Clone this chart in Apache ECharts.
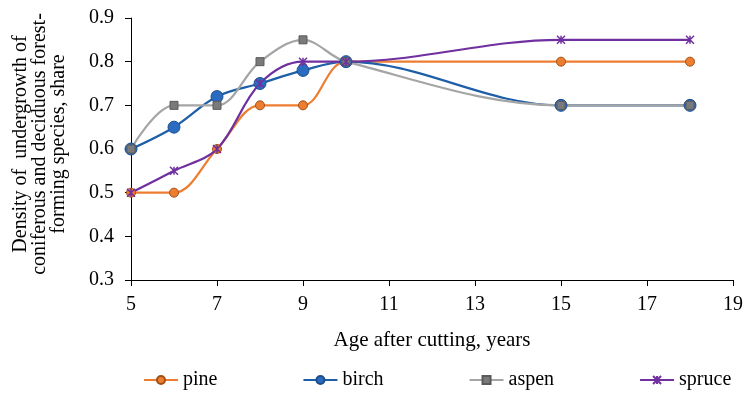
<!DOCTYPE html>
<html>
<head>
<meta charset="utf-8">
<script src="https://cdn.jsdelivr.net/npm/echarts@6/dist/echarts.min.js"></script>
<style>
html,body{margin:0;padding:0;background:#fff;}
#chart{width:746px;height:394px;}
</style>
</head>
<body>
<div id="chart"></div>
<script>
const ages = [5, 6, 7, 8, 9, 10, 15, 18];
const pine = [0.5, 0.5, 0.6, 0.7, 0.7, 0.8, 0.8, 0.8];
const birch = [0.6, 0.65, 0.72, 0.75, 0.78, 0.8, 0.7, 0.7];
const aspen = [0.6, 0.7, 0.7, 0.8, 0.85, 0.8, 0.7, 0.7];
const spruce = [0.5, 0.55, 0.6, 0.75, 0.8, 0.8, 0.85, 0.85];
const xTicks = [5, 7, 9, 11, 13, 15, 17, 19];
const yTitle = 'Density of  undergrowth of\nconiferous and deciduous forest-\nforming species, share';
const xTitle = 'Age after cutting, years';

const FONT = '"Liberation Serif", "Times New Roman", serif';
const pairs = vals => ages.map((a, i) => [a, vals[i]]);

const chart = echarts.init(document.getElementById('chart'), null, {renderer: 'canvas'});
const lineBase = {type: 'line', smooth: 0.35, smoothMonotone: null};

chart.setOption({
  animation: false,
  textStyle: {fontFamily: FONT},
  grid: {left: 131, right: 9, top: 18, bottom: 114},
  xAxis: {
    type: 'value', min: 5, max: 19,
    name: xTitle, nameLocation: 'middle', nameGap: 50,
    nameTextStyle: {fontFamily: FONT, fontSize: 21, color: '#000'},
    axisLine: {show: true, lineStyle: {color: '#000', width: 1}},
    axisTick: {show: true, length: 6, customValues: xTicks, lineStyle: {color: '#000'}},
    axisLabel: {customValues: xTicks, margin: 15, fontFamily: FONT, fontSize: 20, color: '#000'},
    splitLine: {show: false}
  },
  yAxis: {
    type: 'value', min: 0.3, max: 0.9, interval: 0.1,
    axisLine: {show: true, lineStyle: {color: '#000', width: 1}},
    axisTick: {show: true, length: 6, lineStyle: {color: '#000'}},
    axisLabel: {margin: 17, fontFamily: FONT, fontSize: 20, color: '#000',
      formatter: v => v.toFixed(1)},
    splitLine: {show: false}
  },
  legend: {
    left: 143, top: 370, padding: 0, itemWidth: 34, itemHeight: 10, itemGap: 85,
    textStyle: {fontFamily: FONT, fontSize: 20, color: '#000'},
    data: ['pine', 'birch', 'aspen', 'spruce']
  },
  graphic: [{
    type: 'text', x: 40, y: 144, rotation: Math.PI / 2,
    style: {text: yTitle, fontFamily: FONT, fontSize: 20, lineHeight: 19,
      fill: '#000', align: 'center', verticalAlign: 'middle'}
  }],
  series: [
    Object.assign({}, lineBase, {
      name: 'pine', data: pairs(pine), symbol: 'circle', symbolSize: 9,
      lineStyle: {color: '#ED7D31', width: 2.25},
      itemStyle: {color: '#ED7D31', borderColor: '#A34E12', borderWidth: 1}
    }),
    Object.assign({}, lineBase, {
      name: 'birch', data: pairs(birch), symbol: 'circle', symbolSize: 12,
      lineStyle: {color: '#1F5FA8', width: 2.25},
      itemStyle: {color: '#2A6CBF', borderColor: '#1F4E8C', borderWidth: 1}
    }),
    Object.assign({}, lineBase, {
      name: 'aspen', data: pairs(aspen), symbol: 'rect', symbolSize: 8,
      lineStyle: {color: '#A5A5A5', width: 2.25},
      itemStyle: {color: '#7A7A7A', borderColor: '#5A5A5A', borderWidth: 1}
    }),
    Object.assign({}, lineBase, {
      name: 'spruce', data: pairs(spruce),
      symbol: 'path://M0,0L10,10M10,0L0,10M5,0L5,10', symbolSize: 8,
      lineStyle: {color: '#7030A0', width: 2.25},
      itemStyle: {color: '#7030A0', borderColor: '#7030A0', borderWidth: 1.5}
    })
  ]
});
</script>
</body>
</html>
